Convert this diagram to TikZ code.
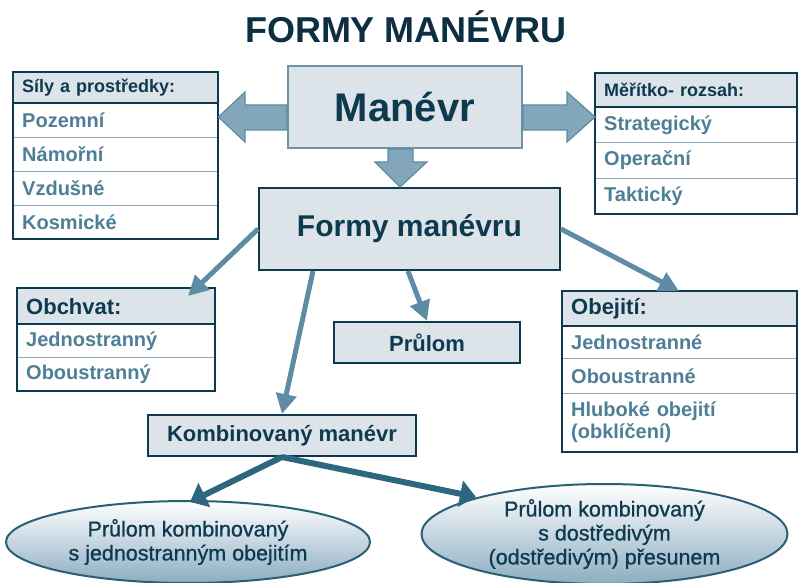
\documentclass[tikz,border=0pt]{standalone}
\usepackage{fontspec}
\setmainfont{Liberation Sans}
\usetikzlibrary{arrows.meta,shapes.geometric,calc}
\definecolor{navy}{HTML}{0E3A50}
\definecolor{titlec}{HTML}{0D2F42}
\definecolor{boxfill}{HTML}{DCE3E9}
\definecolor{rowtext}{HTML}{4F7F97}
\definecolor{rowline}{HTML}{8DAABA}
\definecolor{fatfill}{HTML}{82A7BB}
\definecolor{fatline}{HTML}{5F8BA2}
\definecolor{thinc}{HTML}{5D8CA4}
\definecolor{darkarrow}{HTML}{2C677F}
\definecolor{ellline}{HTML}{2A5F75}
\definecolor{ellbot}{HTML}{8CADC1}
\definecolor{manline}{HTML}{6C93A8}
\newcommand\fsz[2]{\fontsize{#1}{#2}\selectfont}
\begin{document}
\begin{tikzpicture}[x=1pt,y=-1pt,
  hdr/.style={fill=boxfill, anchor=north west, inner xsep=9pt, inner ysep=0pt,
    text=navy, font=\bfseries\fsz{18}{21}, align=left},
  hdrbig/.style={hdr, font=\bfseries\fsz{22}{25}},
  rowbox/.style={fill=white, anchor=north west, inner xsep=9pt, inner ysep=0pt,
    text=rowtext, font=\bfseries\fsz{20}{22}, align=left},
  sepline/.style={draw=rowline, line width=1pt},
  outer/.style={draw=navy, line width=2pt},
  mainbox/.style={fill=boxfill, draw=navy, line width=2pt, text=navy, inner sep=0pt},
  fat/.style={fill=fatfill, draw=fatline, line width=1.2pt, line join=miter},
  thinarrow/.style={draw=thinc, line width=5pt, -{Triangle[length=20pt,width=20pt]}},
  darkarr/.style={draw=darkarrow, line width=6pt, -{Triangle[length=16pt,width=26pt]}},
  ell/.style={ellipse, draw=ellline, line width=2pt, top color=white, bottom color=ellbot,
    inner sep=0pt, text=navy, font=\fsz{21.5}{24}\addfontfeature{FakeBold=0.9}, align=center}
]
\useasboundingbox (0,0) rectangle (801,583);

% title
\node[font=\bfseries\fsz{36}{40}, text=titlec] (title) at (406,27) {FORMY MANÉVRU};

% main boxes
\node[mainbox, draw=manline, minimum width=234pt, minimum height=82pt,
  font=\bfseries\fsz{40}{44}] (man) at (405,107) {Manévr};
\node[mainbox, minimum width=301pt, minimum height=82pt,
  font=\bfseries\fsz{30}{34}] (formy) at (409.5,229) {Formy manévru};
\node[mainbox, minimum width=186pt, minimum height=41pt,
  font=\bfseries\fsz{22}{25}] (prulom) at (427,342.5) {Průlom};
\node[mainbox, minimum width=268pt, minimum height=41pt,
  font=\bfseries\fsz{22}{25}] (komb) at (282,435.5) {Kombinovaný manévr};

% table: Síly a prostředky
\node[hdr, text width=187pt, minimum height=31pt] (silyh) at (13,72) {Síly a prostředky:};
\node[rowbox, text width=187pt, minimum height=33.5pt] (s1) at (silyh.south west) {Pozemní};
\node[rowbox, text width=187pt, minimum height=33.5pt] (s2) at (s1.south west) {Námořní};
\node[rowbox, text width=187pt, minimum height=33.5pt] (s3) at (s2.south west) {Vzdušné};
\node[rowbox, text width=187pt, minimum height=33.5pt] (s4) at (s3.south west) {Kosmické};
\draw[sepline] (s1.south west) -- (s1.south east) (s2.south west) -- (s2.south east) (s3.south west) -- (s3.south east);
\draw[outer] (silyh.south west) -- (silyh.south east);
\draw[outer] (silyh.north west) rectangle (s4.south east);

% table: Měřítko
\node[hdr, text width=184pt, minimum height=34pt] (merh) at (595,73) {Měřítko- rozsah:};
\node[rowbox, text width=184pt, minimum height=35pt] (m1) at (merh.south west) {Strategický};
\node[rowbox, text width=184pt, minimum height=35pt] (m2) at (m1.south west) {Operační};
\node[rowbox, text width=184pt, minimum height=35pt] (m3) at (m2.south west) {Taktický};
\draw[sepline] (m1.south west) -- (m1.south east) (m2.south west) -- (m2.south east);
\draw[outer] (merh.south west) -- (merh.south east);
\draw[outer] (merh.north west) rectangle (m3.south east);

% table: Obchvat
\node[hdrbig, text width=180pt, minimum height=36pt] (obh) at (17,288) {Obchvat:};
\node[rowbox, text width=180pt, minimum height=33pt] (o1) at (obh.south west) {Jednostranný};
\node[rowbox, text width=180pt, minimum height=33pt] (o2) at (o1.south west) {Oboustranný};
\draw[sepline] (o1.south west) -- (o1.south east);
\draw[outer] (obh.south west) -- (obh.south east);
\draw[outer] (obh.north west) rectangle (o2.south east);

% table: Obejití
\node[hdrbig, text width=217pt, minimum height=35pt] (obj) at (562,291) {Obejití:};
\node[rowbox, text width=217pt, minimum height=32pt] (b1) at (obj.south west) {Jednostranné};
\node[rowbox, text width=217pt, minimum height=34pt] (b2) at (b1.south west) {Oboustranné};
\node[rowbox, text width=217pt, minimum height=58pt] (b3) at (b2.south west) {Hluboké obejití\\(obklíčení)};
\draw[sepline] (b1.south west) -- (b1.south east) (b2.south west) -- (b2.south east);
\draw[outer] (obj.south west) -- (obj.south east);
\draw[outer] (obj.north west) rectangle (b3.south east);

% ellipses
\node[ell, minimum width=364pt, minimum height=82pt] (e1) at (188,542)
  {Průlom kombinovaný\\s jednostranným obejitím};
\node[ell, minimum width=366pt, minimum height=100pt] (e2) at (604.5,534)
  {Průlom kombinovaný\\s dostředivým\\(odstředivým) přesunem};

% fat arrows from Manévr
\draw[fat] (man.west |- 0,105) -- (245,105) -- (245,92) -- (silyh.east |- 0,117)
  -- (245,142) -- (245,130) -- (man.west |- 0,130) -- cycle;
\draw[fat] (man.east |- 0,105) -- (567,105) -- (567,92) -- (merh.west |- 0,117)
  -- (567,142) -- (567,130) -- (man.east |- 0,130) -- cycle;
\draw[fat] (man.south -| 388,0) -- (388,162) -- (375,162) -- (formy.north -| 400,0)
  -- (427,162) -- (413,162) -- (man.south -| 413,0) -- cycle;

% thin arrows from Formy manévru
\coordinate (tobh) at (188,296);
\coordinate (tobj) at (679,291);
\draw[thinarrow] (formy.west) -- (tobh);
\draw[thinarrow] (formy.south -| 313,0) -- (komb.north);
\draw[thinarrow] (formy.south -| 408,0) -- (prulom.north);
\draw[thinarrow] (formy.east) -- (tobj);

% arrows from Kombinovaný manévr
\coordinate (te1) at (190,502);
\coordinate (te2) at (476,497);
\draw[darkarr] (komb.south) -- (te1);
\draw[darkarr] (komb.south) -- (te2);
\end{tikzpicture}
\end{document}
